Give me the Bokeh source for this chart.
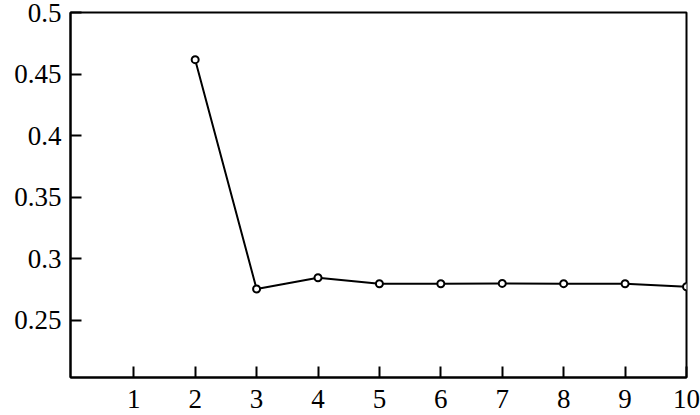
from bokeh.plotting import figure
from bokeh.models import FixedTicker, Range1d
from bokeh.embed import file_html
from bokeh.resources import INLINE

x_vals = [2, 3, 4, 5, 6, 7, 8, 9, 10]
y_vals = [0.4617, 0.2755, 0.2846, 0.2797, 0.2797, 0.2800, 0.2798, 0.2797, 0.2773]

x_ticks = [1, 2, 3, 4, 5, 6, 7, 8, 9, 10]
y_ticks = [0.25, 0.3, 0.35, 0.4, 0.45, 0.5]
y_tick_labels = ["0.25", "0.3", "0.35", "0.4", "0.45", "0.5"]

FONT = "Times New Roman, Liberation Serif, serif"

p = figure(width=700, height=415, output_backend="svg", toolbar_location=None,
           x_range=Range1d(-0.03, 10), y_range=Range1d(0.2036, 0.5),
           min_border_left=70, min_border_right=14, min_border_top=12, min_border_bottom=38)

p.line(x_vals, y_vals, line_color="black", line_width=2)
p.scatter(x_vals, y_vals, size=7, marker="circle", line_color="black", line_width=2, fill_color="white")

p.xgrid.visible = False
p.ygrid.visible = False
p.outline_line_color = "black"
p.outline_line_width = 2
p.outline_line_alpha = 1
p.background_fill_color = "white"
p.border_fill_color = "white"

p.xaxis.ticker = FixedTicker(ticks=x_ticks)
p.yaxis.ticker = FixedTicker(ticks=y_ticks)
p.yaxis.major_label_overrides = {t: s for t, s in zip(y_ticks, y_tick_labels)}
p.xaxis.major_label_overrides = {t: str(t) for t in x_ticks}

for ax in (p.xaxis[0], p.yaxis[0]):
    ax.axis_line_color = "black"
    ax.axis_line_width = 2
    ax.major_tick_line_color = "black"
    ax.major_tick_line_width = 2
    ax.major_tick_in = 11
    ax.major_tick_out = 0
    ax.minor_tick_line_color = None
    ax.major_label_text_font = FONT
    ax.major_label_text_font_size = "27px"
    ax.major_label_text_color = "black"

p.xaxis.major_label_standoff = 12
p.yaxis.major_label_standoff = 9

open("out.html", "w").write(file_html(p, INLINE))
